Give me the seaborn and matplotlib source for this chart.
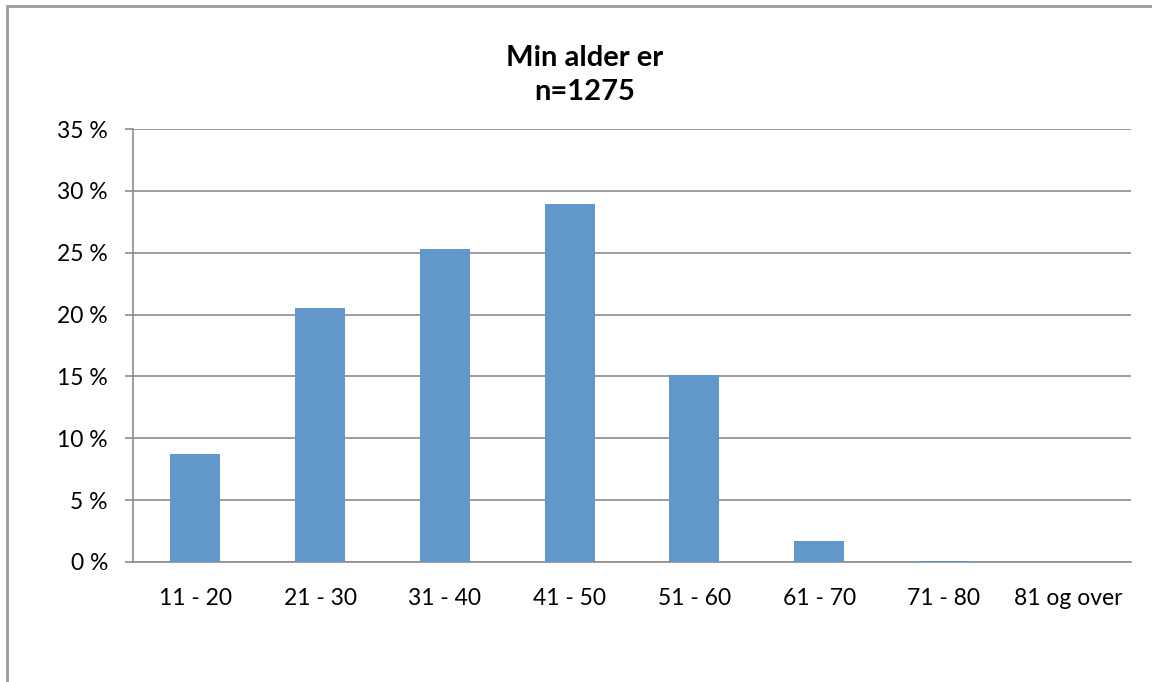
import matplotlib
matplotlib.use("Agg")
import matplotlib.pyplot as plt
from matplotlib.patches import Rectangle
import seaborn as sns
import pandas as pd

categories = ["11 - 20", "21 - 30", "31 - 40", "41 - 50", "51 - 60", "61 - 70", "71 - 80", "81 og over"]
shares = [8.7, 20.5, 25.3, 28.9, 15.1, 1.7, 0.1, 0.0]
y_ticks = [0, 5, 10, 15, 20, 25, 30, 35]
title_text = "Min alder er\nn=1275"

sns.set_theme(style="white")
plt.rcParams["font.family"] = ["Lato", "DejaVu Sans"]

df = pd.DataFrame({"alder": categories, "andel": shares})

fig = plt.figure(figsize=(11.52, 6.82), dpi=100)
ax = fig.add_axes([133 / 1152, 1 - 562 / 682, (1131 - 133) / 1152, (562 - 129) / 682])

sns.barplot(data=df, x="alder", y="andel", color="#6197cb", width=0.4,
            saturation=1, linewidth=0, ax=ax, zorder=3)

grid_col = "#8c8c8c"
ax.set_ylim(0, 35)
ax.set_xlim(-0.5, len(categories) - 0.5)
ax.set_yticks(y_ticks)
ax.set_yticklabels([f"{v} %" for v in y_ticks], fontsize=16.5, color="black")
ax.yaxis.grid(True, color=grid_col, linewidth=1.2, zorder=0)
ax.set_axisbelow(True)

# category labels centered, tick marks on category boundaries
ax.set_xticks(range(len(categories)))
ax.set_xticklabels(categories, fontsize=16.5, color="black")
ax.tick_params(axis="x", length=0, pad=19)
ax.set_xticks([i - 0.5 for i in range(len(categories) + 1)], minor=True)
ax.tick_params(axis="x", which="minor", length=5.5, width=1.2, color=grid_col, direction="out")
ax.tick_params(axis="y", length=6, width=1.2, color=grid_col, direction="out", left=True, pad=12)

ax.set_xlabel("")
ax.set_ylabel("")
for side in ["top", "right"]:
    ax.spines[side].set_visible(False)
for side in ["left", "bottom"]:
    ax.spines[side].set_color(grid_col)
    ax.spines[side].set_linewidth(1.2)

fig.text(585 / 1152, 1 - 75 / 682, title_text, ha="center", va="center",
         fontsize=21, fontweight="bold", linespacing=1.35, color="black")

# outer chart frame (right and bottom edges run past the canvas)
fig.patches.append(Rectangle((6.5 / 1152, -0.5), 1.5, 1.5 - 5.5 / 682, transform=fig.transFigure,
                             fill=False, edgecolor="#9a9a9a", linewidth=2))

fig.savefig("out.png", dpi=100)
